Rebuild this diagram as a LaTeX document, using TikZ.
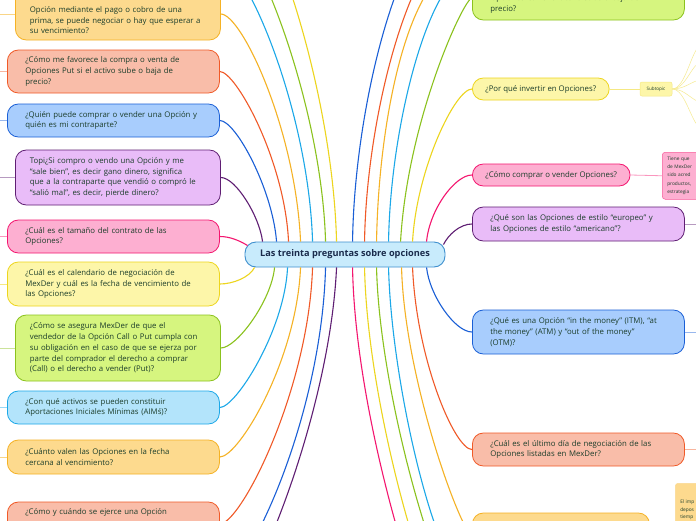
\documentclass[tikz,border=0pt]{standalone}
\usepackage{fontspec}
\setmainfont{Open Sans}
\usetikzlibrary{positioning,calc}

\definecolor{tcol}{HTML}{1B3D2A}
\definecolor{rootT}{HTML}{1A2B4C}
\definecolor{rootF}{HTML}{C8EBFC}
\definecolor{rootB}{HTML}{3E8FCE}
\definecolor{bAmber}{HTML}{F5B225}\definecolor{fAmber}{HTML}{FDDA8E}
\definecolor{bRed}{HTML}{F05A28}\definecolor{fRed}{HTML}{F9BDA9}
\definecolor{bBlue}{HTML}{1A5FD6}\definecolor{fBlue}{HTML}{A8CDFD}
\definecolor{bPurple}{HTML}{5F1E73}\definecolor{fPurple}{HTML}{E9BCF8}
\definecolor{bPink}{HTML}{F4166F}\definecolor{fPink}{HTML}{FDAFD1}
\definecolor{bYellow}{HTML}{EDD51E}\definecolor{fYellow}{HTML}{FDF6A9}
\definecolor{bGreen}{HTML}{8BC21E}\definecolor{fGreen}{HTML}{D6F57F}
\definecolor{bLBlue}{HTML}{1CA8E8}\definecolor{fLBlue}{HTML}{B3E4FB}

\tikzset{
  mm/root/.style={draw=rootB, fill=rootF, rounded corners=11pt, line width=0.9pt,
    minimum width=200pt, minimum height=25pt, inner sep=0pt,
    font=\fontsize{9.2}{11}\selectfont\bfseries, text=rootT},
  mm/topic/.style={draw, rounded corners=11pt, line width=0.8pt, align=left,
    inner xsep=13pt, inner ysep=0pt, font=\fontsize{7.8}{10.8}\selectfont, text=tcol},
  mm/para/.style={text width=176pt, inner xsep=18pt},
  mm/narrow/.style={inner xsep=14.5pt},
  mm/sub/.style={draw=bYellow!55, fill=fYellow, rounded corners=2pt, line width=0.5pt,
    minimum width=32pt, minimum height=14pt, inner sep=0pt,
    font=\fontsize{4.6}{5}\selectfont, text=tcol},
  mm/note/.style={rounded corners=3pt, line width=0.5pt, align=left, anchor=north west,
    inner xsep=5pt, inner ysep=3pt, text width=60pt, font=\fontsize{4.8}{8.4}\selectfont, text=tcol},
  mm/amber/.style={draw=bAmber, fill=fAmber},
  mm/red/.style={draw=bRed, fill=fRed},
  mm/blue/.style={draw=bBlue, fill=fBlue},
  mm/purple/.style={draw=bPurple, fill=fPurple},
  mm/pink/.style={draw=bPink, fill=fPink},
  mm/yellow/.style={draw=bYellow, fill=fYellow},
  mm/green/.style={draw=bGreen, fill=fGreen},
  mm/lblue/.style={draw=bLBlue, fill=fLBlue},
  mm/link/.style={line width=1.1pt},
  mm/stub/.style={line width=0.8pt},
  mm/fan/.style={line width=0.5pt, bYellow!50}
}

\begin{document}
\begin{tikzpicture}[x=1pt, y=-1pt]
  \useasboundingbox[fill=white] (0,0) rectangle (696,520);

  % central topic
  \node[mm/root] (ctr) at (345,254.5) {Las treinta preguntas sobre opciones};

  % left column
  \node[mm/topic, mm/para, mm/narrow, mm/amber, anchor=west, minimum height=52pt] (L1) at (15,14)
    {\strut\\Opción mediante el pago o cobro de una\\prima, se puede negociar o hay que esperar a\\su vencimiento?};
  \node[mm/topic, mm/para, mm/red, anchor=west, minimum height=43pt] (L2) at (7,71.5)
    {¿Cómo me favorece la compra o venta de\\Opciones Put si el activo sube o baja de\\precio?};
  \node[mm/topic, mm/para, mm/blue, anchor=west, minimum height=33pt] (L3) at (7,120.5)
    {¿Quién puede comprar o vender una Opción y\\quién es mi contraparte?};
  \node[mm/topic, mm/para, mm/narrow, mm/purple, anchor=west, minimum height=55pt] (L4) at (15,177.5)
    {Topi¿Si compro o vendo una Opción y me\\“sale bien”, es decir gano dinero, significa\\que a la contraparte que vendió o compró le\\“salió mal”, es decir, pierde dinero?};
  \node[mm/topic, mm/para, mm/pink, anchor=west, minimum height=33pt] (L5) at (7,236.5)
    {¿Cuál es el tamaño del contrato de las\\Opciones?};
  \node[mm/topic, mm/para, mm/yellow, anchor=west, minimum height=44pt] (L6) at (7,284)
    {¿Cuál es el calendario de negociación de\\MexDer y cuál es la fecha de vencimiento de\\las Opciones?};
  \node[mm/topic, mm/para, mm/narrow, mm/green, anchor=west, minimum height=66pt] (L7) at (15,348)
    {¿Cómo se asegura MexDer de que el\\vendedor de la Opción Call o Put cumpla con\\su obligación en el caso de que se ejerza por\\parte del comprador el derecho a comprar\\(Call) o el derecho a vender (Put)?};
  \node[mm/topic, mm/para, mm/lblue, anchor=west, minimum height=33pt] (L8) at (7,407.5)
    {¿Con qué activos se pueden constituir\\Aportaciones Iniciales Mínimas (AIMś)?};
  \node[mm/topic, mm/para, mm/amber, anchor=west, minimum height=34pt] (L9) at (7,457)
    {¿Cuánto valen las Opciones en la fecha\\cercana al vencimiento?};
  \node[mm/topic, mm/para, mm/red, anchor=west, minimum height=44pt] (L10) at (7,524)
    {¿Cómo y cuándo se ejerce una Opción\\\strut\\\strut};

  % right column
  \node[mm/topic, mm/para, mm/green, anchor=west, minimum height=44pt] (R1) at (472,-2)
    {\strut\\Opciones Call si el activo sube o baja de\\precio?};
  \node[mm/topic, mm/yellow, anchor=west, minimum height=22pt] (R2) at (472,89)
    {¿Por qué invertir en Opciones?};
  \node[mm/topic, mm/pink, anchor=west, minimum height=22pt] (R3) at (472,175)
    {¿Cómo comprar o vender Opciones?};
  \node[mm/topic, mm/para, mm/purple, anchor=west, minimum height=34pt] (R4) at (472,224)
    {¿Qué son las Opciones de estilo “europeo” y\\las Opciones de estilo “americano”?};
  \node[mm/topic, mm/para, mm/blue, anchor=west, minimum height=44pt] (R5) at (472,332)
    {¿Qué es una Opción “in the money” (ITM), “at\\the money” (ATM) y “out of the money”\\(OTM)?};
  \node[mm/topic, mm/para, mm/red, anchor=west, minimum height=33pt] (R6) at (472,449.5)
    {¿Cuál es el último día de negociación de las\\Opciones listadas en MexDer?};
  \node[mm/topic, mm/amber, anchor=west, minimum width=177pt, minimum height=44pt] (R7) at (472,535) {};

  % sub-branches on the right
  \node[mm/sub] (sub) at (656,89) {Subtopic};
  \node[mm/note, draw=bPink!70, fill=fPink, minimum height=47pt] (noteA) at (662,152)
    {Tiene que\\de MexDer\\sido acred\\productos,\\estrategia};
  \node[mm/note, draw=bAmber!50, fill=fAmber, minimum height=60pt, font=\fontsize{4.8}{7.7}\selectfont] (noteB) at (675,483)
    {El imp\\depos\\tiemp\\OTM};

  % off-canvas ends
  \coordinate (edgeL) at (-20,0);
  \coordinate (edgeR) at (716,0);
  \coordinate (offTL1) at (219,-40);
  \coordinate (offTL2) at (219,-80);
  \coordinate (offTL3) at (219,-130);
  \coordinate (offTR1) at (472,-100);
  \coordinate (offTR2) at (472,-70);
  \coordinate (offTR3) at (472,-40);
  \coordinate (offTR4) at (472,-30);
  \coordinate (offBL1) at (219,580);
  \coordinate (offBL2) at (219,620);
  \coordinate (offBR1) at (472,700);
  \coordinate (offBR2) at (472,660);
  \coordinate (offBR3) at (472,620);
  \coordinate (offBR4) at (472,585);
  \coordinate (fan1) at (702,45);
  \coordinate (fan2) at (702,62);
  \coordinate (fan3) at (702,80);
  \coordinate (fan4) at (702,102);
  \coordinate (fan5) at (702,128);

  % upper connectors
  \draw[mm/link, bPink] ($(ctr.north west)+(3,4)$) .. controls +(-8,-5) and +(10,0) .. (L5.east);
  \draw[mm/link, bPurple] ($(ctr.north west)+(18,0)$) .. controls +(-3,-25) and +(15,0) .. (L4.east);
  \draw[mm/link, bBlue] ($(ctr.north west)+(32,0)$) .. controls +(-4,-52) and +(16,0) .. (L3.east);
  \draw[mm/link, bRed] ($(ctr.north west)+(44,0)$) .. controls +(-4,-82) and +(16,0) .. (L2.east);
  \draw[mm/link, bAmber] ($(ctr.north west)+(56,0)$) .. controls +(-5,-112) and +(21,0) .. (L1.east);
  \draw[mm/link, bLBlue] ($(ctr.north west)+(68,0)$) .. controls +(-4,-132) and +(26,0) .. (offTL1);
  \draw[mm/link, bGreen] ($(ctr.north west)+(81,0)$) .. controls +(-4,-142) and +(31,0) .. (offTL2);
  \draw[mm/link, bYellow] ($(ctr.north west)+(92,0)$) .. controls +(-4,-162) and +(41,0) .. (offTL3);
  \draw[mm/link, bBlue] ($(ctr.north west)+(108,0)$) .. controls +(2,-142) and +(-67,0) .. (offTR1);
  \draw[mm/link, bRed] ($(ctr.north west)+(120,0)$) .. controls +(2,-132) and +(-57,0) .. (offTR2);
  \draw[mm/link, bAmber] ($(ctr.north west)+(132,0)$) .. controls +(2,-122) and +(-63,0) .. (offTR3);
  \draw[mm/link, bLBlue] ($(ctr.north west)+(144,0)$) .. controls +(2,-122) and +(-40,0) .. (offTR4);
  \draw[mm/link, bGreen] ($(ctr.north west)+(156,0)$) .. controls +(7,-122) and +(-8,0) .. (R1.west);
  \draw[mm/link, bYellow] ($(ctr.north west)+(168,0)$) .. controls +(4,-72) and +(-17,0) .. (R2.west);
  \draw[mm/link, bPink] ($(ctr.north west)+(182,0)$) .. controls +(3,-32) and +(-17,0) .. (R3.west);
  \draw[mm/link, bPurple] ($(ctr.north east)+(-2,3)$) .. controls +(5,-10) and +(-12,0) .. (R4.west);

  % lower connectors
  \draw[mm/link, bYellow] ($(ctr.south west)+(10,0)$) .. controls +(-5,10) and +(13,0) .. (L6.east);
  \draw[mm/link, bGreen] ($(ctr.south west)+(30,0)$) .. controls +(-3,33) and +(16,0) .. (L7.east);
  \draw[mm/link, bLBlue] ($(ctr.south west)+(43,0)$) .. controls +(-3,63) and +(16,0) .. (L8.east);
  \draw[mm/link, bAmber] ($(ctr.south west)+(56,0)$) .. controls +(-4,93) and +(19,0) .. (L9.east);
  \draw[mm/link, bRed] ($(ctr.south west)+(68,0)$) .. controls +(-4,123) and +(21,0) .. (L10.east);
  \draw[mm/link, bBlue] ($(ctr.south west)+(81,0)$) .. controls +(-4,153) and +(26,0) .. (offBL1);
  \draw[mm/link, bPurple] ($(ctr.south west)+(92,0)$) .. controls +(-7,153) and +(26,0) .. (offBL2);
  \draw[mm/link, bPink] ($(ctr.south west)+(108,0)$) .. controls +(3,173) and +(-28,0) .. (offBR1);
  \draw[mm/link, bYellow] ($(ctr.south west)+(120,0)$) .. controls +(3,153) and +(-31,0) .. (offBR2);
  \draw[mm/link, bGreen] ($(ctr.south west)+(132,0)$) .. controls +(3,133) and +(-27,0) .. (offBR3);
  \draw[mm/link, bLBlue] ($(ctr.south west)+(144,0)$) .. controls +(3,123) and +(-32,0) .. (offBR4);
  \draw[mm/link, bAmber] ($(ctr.south west)+(157,0)$) .. controls +(3,113) and +(-10,0) .. (R7.west);
  \draw[mm/link, bRed] ($(ctr.south west)+(168,0)$) .. controls +(4,93) and +(-17,0) .. (R6.west);
  \draw[mm/link, bBlue] ($(ctr.south west)+(182,0)$) .. controls +(3,28) and +(-17,0) .. (R5.west);

  % outer stubs
  \draw[mm/stub, bAmber!55] (L1.west) -- (L1.west -| edgeL);
  \draw[mm/stub, bRed!45] (L2.west) -- (L2.west -| edgeL);
  \draw[mm/stub, bBlue!45] (L3.west) -- (L3.west -| edgeL);
  \draw[mm/stub, bPurple!45] (L4.west) -- (L4.west -| edgeL);
  \draw[mm/stub, bPink!45] (L5.west) -- (L5.west -| edgeL);
  \draw[mm/stub, bYellow!55] (L6.west) -- (L6.west -| edgeL);
  \draw[mm/stub, bGreen!45] (L7.west) -- (L7.west -| edgeL);
  \draw[mm/stub, bLBlue!45] (L8.west) -- (L8.west -| edgeL);
  \draw[mm/stub, bAmber!55] (L9.west) -- (L9.west -| edgeL);
  \draw[mm/stub, bRed!45] (L10.west) -- (L10.west -| edgeL);
  \draw[mm/stub, bPurple!45] (R4.east) -- (R4.east -| edgeR);
  \draw[mm/stub, bBlue!45] (R5.east) -- (R5.east -| edgeR);
  \draw[mm/stub, bRed!45] (R6.east) -- (R6.east -| edgeR);
  \draw[mm/stub, bYellow!55] (R2.east) -- (sub.west);
  \draw[mm/stub, bPink!45] (R3.east) -- (noteA.west);
  \foreach \f in {fan1,fan2,fan3,fan4,fan5}
    \draw[mm/fan] (sub.east) .. controls +(14,0) and +(-10,0) .. (\f);
\end{tikzpicture}
\end{document}
